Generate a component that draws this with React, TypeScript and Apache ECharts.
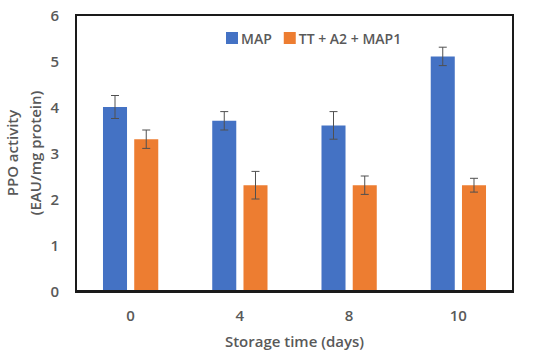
import React, { useEffect, useRef } from "react";
import * as echarts from "echarts";

const categories = ["0", "4", "8", "10"];
const seriesNames = ["MAP", "TT + A2 + MAP1"];
const mapValues = [4.0, 3.7, 3.6, 5.1];
const mapErrors = [0.25, 0.2, 0.3, 0.2];
const ttValues = [3.3, 2.3, 2.3, 2.3];
const ttErrors = [0.2, 0.3, 0.2, 0.15];
const colors = ["#4472C4", "#ED7D31"];

const FONT = "Open Sans";
const BAR_PCT = 0.22;
const GAP_PCT = 0.3;

const GRID = { left: 76, right: 37, top: 15, bottom: 68 };
const W = 550;
const H = 359;

function errorSeries(values: number[], errors: number[], side: number) {
  return {
    type: "custom",
    z: 10,
    silent: true,
    data: values.map((v, i) => [i, v - errors[i], v + errors[i]]),
    renderItem: (params: any, api: any) => {
      const idx = api.value(0);
      const lo = api.coord([idx, api.value(1)]);
      const hi = api.coord([idx, api.value(2)]);
      const band = api.size([1, 0])[0];
      const bw = band * BAR_PCT;
      const x = lo[0] + side * (bw * (1 + GAP_PCT)) / 2;
      const cap = 4;
      const style = { stroke: "#505050", lineWidth: 1 };
      return {
        type: "group",
        children: [
          { type: "line", shape: { x1: x, y1: lo[1], x2: x, y2: hi[1] }, style },
          { type: "line", shape: { x1: x - cap, y1: hi[1], x2: x + cap, y2: hi[1] }, style },
          { type: "line", shape: { x1: x - cap, y1: lo[1], x2: x + cap, y2: lo[1] }, style },
        ],
      };
    },
  };
}

const frameSeries = {
  type: "custom",
  z: 20,
  silent: true,
  clip: false,
  data: [[0, 0]],
  renderItem: (params: any) => {
    const cs = params.coordSys;
    const t = 2;
    const x0 = Math.round(cs.x) - 1;
    const y0 = Math.round(cs.y) - 1;
    const x1 = Math.round(cs.x + cs.width) - 1;
    const y1 = Math.round(cs.y + cs.height) - 1;
    const style = { fill: "#1a1a1a" };
    return {
      type: "group",
      children: [
        { type: "rect", shape: { x: x0, y: y0, width: x1 - x0 + t, height: t }, style },
        { type: "rect", shape: { x: x0, y: y1, width: x1 - x0 + t, height: t + 1 }, style },
        { type: "rect", shape: { x: x0, y: y0, width: t, height: y1 - y0 + t }, style },
        { type: "rect", shape: { x: x1, y: y0, width: t, height: y1 - y0 + t }, style },
      ],
    };
  },
};

const labelStyle = { fontFamily: FONT, fontSize: 15, fontWeight: 600, color: "#595959" };

export default function App() {
  const ref = useRef<HTMLDivElement>(null);
  useEffect(() => {
    const chart = echarts.init(ref.current!, null, { renderer: "svg" });
    chart.setOption({
      animation: false,
      textStyle: { fontFamily: FONT },
      legend: {
        data: seriesNames,
        top: 26,
        left: 221,
        itemWidth: 12,
        itemHeight: 12,
        itemGap: 12,
        icon: "rect",
        textStyle: { fontFamily: FONT, fontSize: 14, fontWeight: 600, color: "#595959", padding: [0, 0, 0, -2] },
      },
      grid: {
        ...GRID,
        containLabel: false,
        outerBoundsMode: "none",
      },
      xAxis: {
        type: "category",
        data: categories,
        axisTick: { show: false },
        axisLine: { show: false },
        axisLabel: { ...labelStyle, margin: 16 },
        name: "Storage time (days)",
        nameLocation: "middle",
        nameGap: 42,
        nameTextStyle: labelStyle,
      },
      yAxis: {
        type: "value",
        min: 0,
        max: 6,
        interval: 1,
        splitLine: { show: false },
        axisLine: { show: false },
        axisTick: { show: false },
        axisLabel: { ...labelStyle, margin: 17 },
        name: "PPO activity\n(EAU/mg protein)",
        nameLocation: "middle",
        nameGap: 30,
        nameMoveOverlap: false,
        nameTextStyle: { ...labelStyle, lineHeight: 23 },
      },
      series: [
        {
          name: seriesNames[0],
          type: "bar",
          data: mapValues,
          barWidth: BAR_PCT * 100 + "%",
          barGap: GAP_PCT * 100 + "%",
          itemStyle: { color: colors[0] },
        },
        {
          name: seriesNames[1],
          type: "bar",
          data: ttValues,
          barWidth: BAR_PCT * 100 + "%",
          barGap: GAP_PCT * 100 + "%",
          itemStyle: { color: colors[1] },
        },
        errorSeries(mapValues, mapErrors, -1),
        errorSeries(ttValues, ttErrors, 1),
        frameSeries,
      ],
    });
    return () => chart.dispose();
  }, []);
  return <div ref={ref} style={{ width: W, height: H, position: "absolute", left: 0, top: 0 }} />;
}
